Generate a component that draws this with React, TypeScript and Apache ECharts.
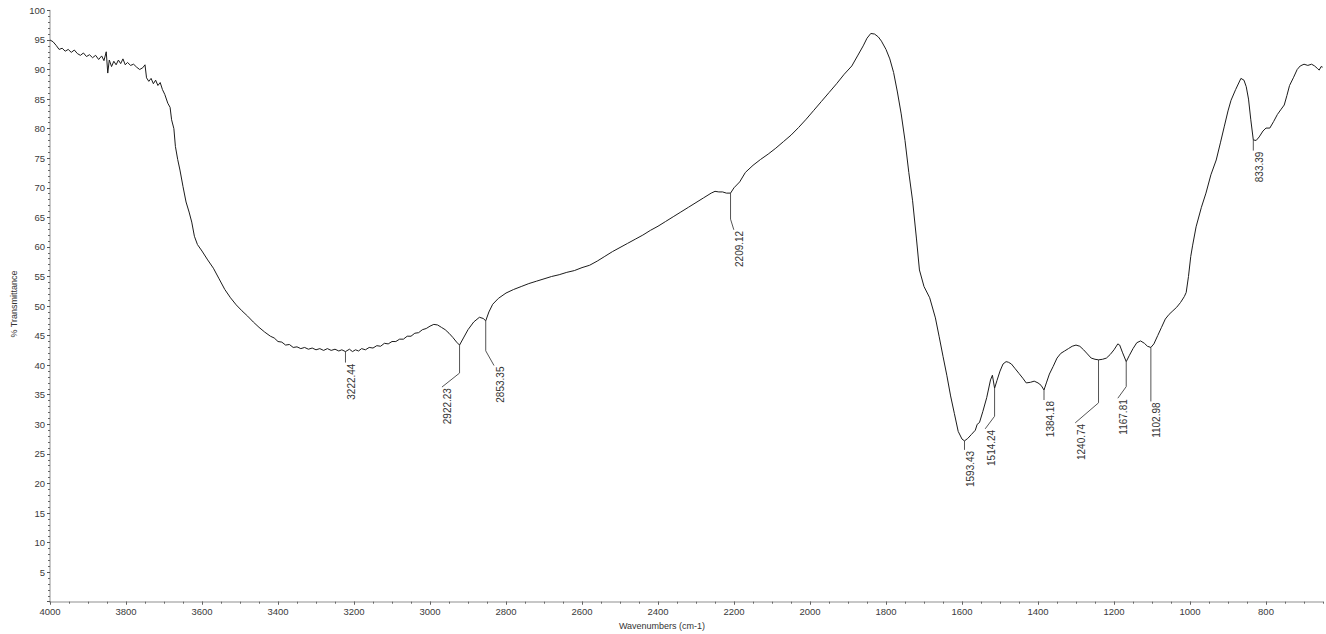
import React, { useEffect, useRef } from "react";
import * as echarts from "echarts";

const FONT = '"Liberation Sans", Arial, sans-serif';

// ---- data ----
const wavenumbers = [
  4000, 3992, 3984, 3976, 3968, 3960, 3952, 3944, 3936, 3928, 3920, 3912, 3904, 3896, 3888, 3880, 3872, 3864,
  3858, 3852, 3848, 3844, 3838, 3832, 3826, 3820, 3814, 3808, 3802, 3796, 3788, 3780, 3772, 3764, 3756, 3750,
  3746, 3740, 3734, 3728, 3722, 3716, 3710, 3704, 3698, 3690, 3684, 3680, 3674, 3670, 3664, 3658, 3650, 3642,
  3634, 3627, 3620, 3612, 3600, 3585, 3570, 3555, 3540, 3525, 3510, 3495, 3480, 3465, 3450, 3435,
  3420, 3410, 3400, 3390, 3380, 3370, 3360, 3350, 3340, 3330, 3320, 3310, 3300, 3290, 3280, 3270, 3260, 3250,
  3240, 3232, 3222.44, 3212, 3204, 3196, 3188, 3180, 3170, 3160, 3150, 3140, 3130, 3120, 3110, 3100, 3090, 3080,
  3070, 3060, 3050, 3040, 3030, 3020, 3010, 3000,
  2990, 2980, 2970, 2960, 2950, 2940, 2930, 2922.23, 2912,
  2900, 2885, 2870, 2860, 2853.35, 2845, 2835, 2820, 2800, 2780, 2760, 2740, 2720, 2700, 2680, 2660, 2640, 2620,
  2600, 2580, 2560, 2540, 2520, 2500, 2480, 2460, 2440, 2420, 2400, 2380, 2360, 2340, 2320, 2300, 2280, 2260,
  2250, 2240, 2230, 2220, 2209.12, 2200, 2185, 2170, 2150, 2130, 2110, 2090, 2070, 2050, 2030, 2010, 1990, 1970,
  1950, 1930, 1910, 1890, 1875, 1860, 1850, 1840, 1830, 1820, 1812, 1800, 1790, 1780, 1770, 1760, 1750, 1740,
  1730, 1720, 1712, 1700, 1685, 1670, 1660, 1650, 1640, 1630, 1620, 1610, 1600, 1593.43, 1585, 1575, 1565, 1560,
  1554, 1545, 1535, 1525, 1520, 1514.24, 1508, 1500, 1492, 1484, 1478, 1470, 1460, 1450, 1440, 1431, 1420, 1410,
  1400, 1392, 1384.18, 1378, 1370, 1360, 1350, 1340, 1330, 1320, 1310, 1300, 1290, 1280, 1270, 1260, 1250,
  1240.74, 1230, 1220, 1210, 1200, 1190, 1185, 1178, 1167.81, 1160, 1150, 1140, 1130, 1120, 1112, 1102.98, 1095,
  1085, 1075, 1065, 1055, 1045, 1035, 1025, 1015, 1010, 1004, 998, 993, 984, 970, 958, 945, 931, 920, 910, 900,
  892, 880, 866, 858, 852, 846, 840, 833.39, 826, 818, 808, 800, 790, 780, 770, 760, 752, 745, 738, 728, 718, 710,
  700, 690, 680, 672, 665, 660, 655, 651,
];

const transmittance = [
  95.0, 94.7, 94.1, 93.4, 93.6, 93.1, 93.4, 92.9, 93.3, 92.7, 92.4, 92.8, 92.2, 92.5, 92.0, 92.4, 91.7, 92.3,
  91.5, 93.0, 89.4, 91.6, 90.5, 91.4, 90.8, 91.6, 91.0, 91.8, 90.8, 91.2, 90.7, 90.9, 90.4, 90.0, 90.3, 90.8,
  88.6, 88.0, 88.5, 87.6, 88.2, 87.3, 87.8, 86.6, 85.8, 84.3, 83.6, 81.5, 80.0, 77.0, 74.8, 73.0, 70.2, 67.6,
  65.9, 64.2, 61.8, 60.4, 59.3, 57.8, 56.4, 54.6, 52.8, 51.4, 50.2, 49.2, 48.3, 47.3, 46.4, 45.6,
  44.9, 44.6, 44.0, 43.9, 43.4, 43.5, 43.0, 43.1, 42.8, 43.0, 42.7, 42.9, 42.6, 42.8, 42.5, 42.8, 42.5, 42.7,
  42.4, 42.6, 42.3, 42.7, 42.3, 42.6, 42.4, 42.8, 42.6, 43.0, 42.9, 43.3, 43.2, 43.7, 43.6, 44.0, 44.0, 44.4,
  44.4, 44.9, 44.9, 45.4, 45.5, 46.0, 46.2, 46.6,
  46.9, 46.8, 46.4, 46.0, 45.4, 44.7, 43.9, 43.4, 44.6,
  46.0, 47.3, 48.1, 47.9, 47.5, 49.0, 50.3, 51.3, 52.2, 52.8, 53.3, 53.8, 54.2, 54.6, 55.0, 55.3, 55.7, 56.0,
  56.5, 56.9, 57.6, 58.4, 59.2, 59.9, 60.6, 61.3, 62.0, 62.8, 63.5, 64.3, 65.1, 65.9, 66.7, 67.5, 68.3, 69.1,
  69.4, 69.3, 69.3, 69.1, 69.1, 70.0, 71.0, 72.6, 73.8, 74.8, 75.7, 76.7, 77.8, 78.9, 80.2, 81.6, 83.1, 84.6,
  86.1, 87.6, 89.2, 90.6, 92.3, 94.0, 95.3, 96.1, 96.0, 95.5, 94.8, 93.4, 91.8, 89.5, 86.2, 82.5, 78.0, 72.6,
  67.8, 61.5, 56.1, 53.3, 51.4, 48.0, 44.8, 41.5, 38.3, 34.8, 31.8, 28.8, 27.5, 27.2, 27.6, 28.3, 29.0, 30.0,
  30.3, 32.2, 34.5, 37.5, 38.3, 36.1, 37.4, 39.0, 40.2, 40.6, 40.5, 40.2, 39.4, 38.6, 37.8, 37.0, 37.1, 37.3,
  37.0, 36.6, 35.8, 37.0, 38.5, 39.8, 41.2, 42.0, 42.4, 42.8, 43.2, 43.4, 43.2, 42.6, 41.9, 41.2, 41.0,
  40.9, 41.0, 41.2, 41.8, 42.6, 43.6, 43.4, 42.2, 40.6, 41.6, 42.8, 43.8, 44.1, 43.7, 43.2, 43.0, 43.6,
  45.0, 46.4, 47.8, 48.6, 49.2, 49.8, 50.6, 51.6, 52.3, 55.0, 58.4, 60.3, 63.4, 66.7, 69.1, 72.2, 74.7, 77.6, 80.3, 83.0,
  84.8, 86.6, 88.5, 88.2, 87.1, 85.0, 81.5, 78.1, 78.0, 78.6, 79.6, 80.1, 80.1, 81.2, 82.4, 83.3, 84.0, 85.6, 87.3, 88.6, 90.0, 90.6,
  90.9, 90.7, 90.9, 90.6, 90.2, 89.9, 90.5, 90.4,
];

const peakWavenumbers = [3222.44, 2922.23, 2853.35, 2209.12, 1593.43, 1514.24, 1384.18, 1240.74, 1167.81, 1102.98, 833.39];
const peakTransmittance = [42.3, 43.4, 47.5, 69.1, 27.2, 36.1, 35.8, 40.9, 40.6, 43.0, 78.1];
const peakLabels = ["3222.44", "2922.23", "2853.35", "2209.12", "1593.43", "1514.24", "1384.18", "1240.74", "1167.81", "1102.98", "833.39"];

const xTickLabels = [4000, 3800, 3600, 3400, 3200, 3000, 2800, 2600, 2400, 2200, 2000, 1800, 1600, 1400, 1200, 1000, 800];

// leader-line layout in pixels: [vertical drop, slant dx, slant dy]
const leaderLayout: number[][] = [
  [11, 0, 0],
  [28, -17.6, 14],
  [30, 8.3, 14.7],
  [26, 3.3, 10.7],
  [9, 0, 0],
  [28, -9.4, 12.6],
  [10, 0, 0],
  [43, -23.3, 20],
  [25, -8.4, 11.6],
  [54, 0, 0],
  [10.7, 0, 0],
];

export default function App() {
  const ref = useRef<HTMLDivElement>(null);

  useEffect(() => {
    const chart = echarts.init(ref.current!, null, { renderer: "svg" });
    const axisTextColor = "#3a3a3a";

    const option: any = {
      animation: false,
      backgroundColor: "#ffffff",
      grid: { left: 50, right: 3, top: 10.4, bottom: 32.3 },
      xAxis: [
        {
          type: "value",
          min: 650,
          max: 4000,
          inverse: true,
          position: "bottom",
          axisLine: { show: true, lineStyle: { color: "#b5b5b5", width: 1.5 } },
          axisTick: { show: true, customValues: xTickLabels, length: 3, lineStyle: { color: "#555", width: 1 } },
          axisLabel: {
            customValues: xTickLabels,
            formatter: (v: number) => String(v),
            color: axisTextColor,
            fontSize: 9.5,
            fontFamily: FONT,
            margin: 5,
          },
          splitLine: { show: false },
        },
        {
          type: "value",
          min: 650,
          max: 4000,
          inverse: true,
          position: "bottom",
          interval: 50,
          axisLine: { show: false },
          axisTick: { show: true, length: 2, lineStyle: { color: "#666", width: 1 } },
          axisLabel: { show: false },
          splitLine: { show: false },
        },
      ],
      yAxis: {
        type: "value",
        min: 0,
        max: 100,
        interval: 5,
        axisLine: { show: true, lineStyle: { color: "#b5b5b5", width: 1.5 } },
        axisTick: { show: true, length: 3, lineStyle: { color: "#555", width: 1 } },
        minorTick: { show: true, splitNumber: 5, length: 2, lineStyle: { color: "#666", width: 1 } },
        axisLabel: {
          formatter: (v: number) => (v === 0 ? "" : String(v)),
          color: axisTextColor,
          fontSize: 9.5,
          fontFamily: FONT,
          margin: 5,
        },
        splitLine: { show: false },
        minorSplitLine: { show: false },
      },
      graphic: [
        {
          type: "text",
          x: 662,
          y: 626,
          style: {
            text: "Wavenumbers (cm-1)",
            fill: "#333",
            font: `9px ${FONT}`,
            align: "center",
            verticalAlign: "middle",
            textAlign: "center",
            textVerticalAlign: "middle",
          },
        },
        {
          type: "text",
          x: 13.5,
          y: 304,
          rotation: Math.PI / 2,
          style: {
            text: "% Transmittance",
            fill: "#333",
            font: `9px ${FONT}`,
            align: "center",
            verticalAlign: "middle",
            textAlign: "center",
            textVerticalAlign: "middle",
          },
        },
      ],
      series: [
        {
          type: "line",
          xAxisIndex: 0,
          yAxisIndex: 0,
          data: wavenumbers.map((w, i) => [w, transmittance[i]]),
          showSymbol: false,
          symbol: "none",
          silent: true,
          lineStyle: { color: "#1c1c1c", width: 1 },
        },
        {
          type: "custom",
          xAxisIndex: 0,
          yAxisIndex: 0,
          clip: false,
          silent: true,
          z: 3,
          data: peakWavenumbers.map((w, i) => [w, peakTransmittance[i]]),
          renderItem: (params: any, api: any) => {
            const i = params.dataIndex;
            const p = api.coord([api.value(0), api.value(1)]);
            const [drop, dx, dy] = leaderLayout[i];
            const x1 = p[0];
            const y1 = p[1] + drop;
            const x2 = x1 + dx;
            const y2 = y1 + dy;
            return {
              type: "group",
              children: [
                {
                  type: "polyline",
                  shape: { points: [[p[0], p[1]], [x1, y1], [x2, y2]] },
                  style: { stroke: "#555", lineWidth: 1, fill: null },
                },
                {
                  type: "text",
                  x: x2 + 6,
                  y: y2 + 1,
                  rotation: Math.PI / 2,
                  style: {
                    text: peakLabels[i],
                    fill: "#333",
                    font: `10px ${FONT}`,
                    align: "right",
                    verticalAlign: "middle",
                    textAlign: "right",
                    textVerticalAlign: "middle",
                  },
                },
              ],
            };
          },
        },
      ],
    };

    chart.setOption(option);
    return () => chart.dispose();
  }, []);

  return (
    <div
      ref={ref}
      style={{ position: "fixed", left: 0, top: 0, width: 1326, height: 634, background: "#fff" }}
    />
  );
}
